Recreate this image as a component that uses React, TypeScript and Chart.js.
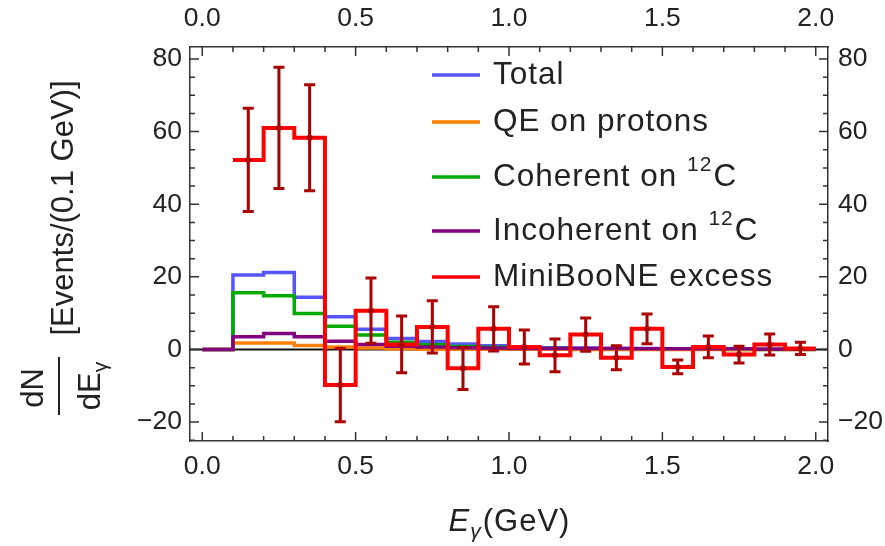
import React, { useEffect, useRef } from "react";
import { Chart, registerables } from "chart.js";

Chart.register(...registerables);

// ---------- data ----------
const binEdges = [0.0, 0.1, 0.2, 0.3, 0.4, 0.5, 0.6, 0.7, 0.8, 0.9, 1.0, 1.1, 1.2, 1.3, 1.4, 1.5, 1.6, 1.7, 1.8, 1.9, 2.0];

const totalEvents = [0, 20.5, 21.2, 14.4, 9.0, 5.6, 3.0, 2.2, 1.5, 1.0, 0.7, 0.5, 0.4, 0.3, 0.3, 0.2, 0.2, 0.2, 0.1, 0.1];
const qeProtons = [0, 1.8, 1.8, 1.1, 0.7, 0.4, 0.2, 0.1, 0.1, 0.1, 0.05, 0.05, 0, 0, 0, 0, 0, 0, 0, 0];
const coherentC12 = [0, 15.6, 14.8, 9.9, 6.4, 4.0, 2.0, 1.3, 0.8, 0.6, 0.4, 0.3, 0.2, 0.1, 0.1, 0.05, 0.05, 0, 0, 0];
const incoherentC12 = [0, 3.5, 4.4, 3.5, 2.3, 1.4, 0.9, 0.7, 0.5, 0.4, 0.3, 0.3, 0.3, 0.3, 0.2, 0.2, 0.2, 0.2, 0.1, 0.1];

// MiniBooNE excess: bins from 0.1 to 2.0
const excessEdges = [0.1, 0.2, 0.3, 0.4, 0.5, 0.6, 0.7, 0.8, 0.9, 1.0, 1.1, 1.2, 1.3, 1.4, 1.5, 1.6, 1.7, 1.8, 1.9, 2.0];
const excessEvents = [52.2, 61.0, 58.3, -9.8, 10.7, 1.4, 6.2, -5.2, 5.7, 0.7, -1.6, 4.1, -2.3, 5.7, -4.8, 0.7, -1.4, 1.4, 0.3];
const excessErrors = [14.2, 16.7, 14.6, 10.1, 9.0, 7.8, 7.2, 5.8, 6.1, 4.7, 4.5, 4.6, 3.3, 4.1, 1.9, 3.0, 2.3, 2.9, 1.7];

const xTickValues = [0, 0.1, 0.2, 0.3, 0.4, 0.5, 0.6, 0.7, 0.8, 0.9, 1.0, 1.1, 1.2, 1.3, 1.4, 1.5, 1.6, 1.7, 1.8, 1.9, 2.0];
const xMajorTicks = [0, 0.5, 1.0, 1.5, 2.0];
const yTickValues = [-25, -20, -15, -10, -5, 0, 5, 10, 15, 20, 25, 30, 35, 40, 45, 50, 55, 60, 65, 70, 75, 80];
const yMajorTicks = [-20, 0, 20, 40, 60, 80];

const legendLabels = ["Total", "QE on protons", "Coherent on ¹²C", "Incoherent on ¹²C", "MiniBooNE excess"];

// ---------- styling ----------
const FONT = "'Liberation Sans', Arial, Helvetica, sans-serif";
const TEXT = "#222222";
const FRAME = "#333333";
const C_TOTAL = "rgb(85,85,255)";
const C_QE = "rgb(255,128,0)";
const C_COH = "rgb(0,170,0)";
const C_INC = "rgb(128,0,128)";
const C_EXC = "rgb(255,0,0)";
const C_ERR = "rgb(170,0,0)";

const isIn = (arr: number[], v: number) => arr.some((m) => Math.abs(m - v) < 1e-9);

function stepPoints(edges: number[], values: number[]) {
  const pts = values.map((v, i) => ({ x: edges[i], y: v }));
  pts.push({ x: edges[values.length], y: values[values.length - 1] });
  return pts;
}

const centers = excessEvents.map((_, i) => (excessEdges[i] + excessEdges[i + 1]) / 2);

const decorPlugin = {
  id: "decor",
  beforeDatasetsDraw(chart: any) {
    const { ctx, chartArea } = chart;
    const y0 = chart.scales.y.getPixelForValue(0);
    ctx.save();
    ctx.strokeStyle = "#111";
    ctx.lineWidth = 1.8;
    ctx.beginPath();
    ctx.moveTo(chartArea.left, y0);
    ctx.lineTo(chartArea.right, y0);
    ctx.stroke();
    ctx.restore();
  },
  afterDatasetsDraw(chart: any) {
    const { ctx } = chart;
    const xs = chart.scales.x;
    const ys = chart.scales.y;
    ctx.save();
    ctx.strokeStyle = C_ERR;
    ctx.fillStyle = C_ERR;
    ctx.lineWidth = 3;
    ctx.lineCap = "butt";
    centers.forEach((c, i) => {
      const px = xs.getPixelForValue(c);
      const top = ys.getPixelForValue(excessEvents[i] + excessErrors[i]);
      const bot = ys.getPixelForValue(excessEvents[i] - excessErrors[i]);
      const mid = ys.getPixelForValue(excessEvents[i]);
      ctx.beginPath();
      ctx.moveTo(px, top);
      ctx.lineTo(px, bot);
      ctx.moveTo(px - 5.5, top);
      ctx.lineTo(px + 5.5, top);
      ctx.moveTo(px - 5.5, bot);
      ctx.lineTo(px + 5.5, bot);
      ctx.stroke();
      ctx.beginPath();
      ctx.arc(px, mid, 3, 0, Math.PI * 2);
      ctx.fill();
    });
    ctx.restore();
  },
  afterDraw(chart: any) {
    const { ctx, chartArea } = chart;
    ctx.save();
    // inward tick marks
    ctx.strokeStyle = FRAME;
    ctx.lineWidth = 1.5;
    const MAJ = 9;
    const MIN = 5;
    const xb = chart.scales.x;
    const yl = chart.scales.y;
    ctx.beginPath();
    xTickValues.forEach((v) => {
      const px = xb.getPixelForValue(v);
      const L = isIn(xMajorTicks, v) ? MAJ : MIN;
      ctx.moveTo(px, chartArea.bottom);
      ctx.lineTo(px, chartArea.bottom - L);
      ctx.moveTo(px, chartArea.top);
      ctx.lineTo(px, chartArea.top + L);
    });
    yTickValues.forEach((v) => {
      const py = yl.getPixelForValue(v);
      const L = isIn(yMajorTicks, v) ? MAJ : MIN;
      ctx.moveTo(chartArea.left, py);
      ctx.lineTo(chartArea.left + L, py);
      ctx.moveTo(chartArea.right, py);
      ctx.lineTo(chartArea.right - L, py);
    });
    ctx.stroke();

    // legend
    const colors = [C_TOTAL, C_QE, C_COH, C_INC, C_EXC];
    const rowsY = [75, 122, 177, 231, 277];
    const LF = `31.5px ${FONT}`;
    const SF = `21px ${FONT}`;
    ctx.lineWidth = 3.5;
    legendLabels.forEach((lab, i) => {
      const y = rowsY[i];
      ctx.strokeStyle = colors[i];
      ctx.beginPath();
      ctx.moveTo(432, y);
      ctx.lineTo(480, y);
      ctx.stroke();
      ctx.fillStyle = TEXT;
      ctx.textBaseline = "middle";
      ctx.textAlign = "left";
      ctx.letterSpacing = "1px";
      const supIdx = lab.indexOf("¹²");
      if (supIdx >= 0) {
        const pre = lab.slice(0, supIdx);
        const post = lab.slice(supIdx + 2);
        ctx.font = LF;
        ctx.fillText(pre, 493, y);
        let x = 493 + ctx.measureText(pre).width;
        ctx.font = SF;
        ctx.fillText("12", x, y - 12);
        x += ctx.measureText("12").width + 1;
        ctx.font = LF;
        ctx.fillText(post, x, y);
      } else {
        ctx.font = LF;
        ctx.fillText(lab, 493, y);
      }
      ctx.letterSpacing = "0px";
    });

    // x-axis title: E_γ(GeV)
    ctx.fillStyle = TEXT;
    ctx.textBaseline = "alphabetic";
    ctx.textAlign = "left";
    ctx.letterSpacing = "1px";
    const fE = `italic 31px ${FONT}`;
    const fG = `italic 21px ${FONT}`;
    const fR = `31px ${FONT}`;
    ctx.font = fE;
    const wE = ctx.measureText("E").width;
    ctx.font = fG;
    const wG = ctx.measureText("γ").width;
    ctx.font = fR;
    const wR = ctx.measureText("(GeV)").width;
    const cx = (chartArea.left + chartArea.right) / 2;
    let tx = cx - (wE + wG + wR) / 2;
    const base = 531;
    ctx.font = fE;
    ctx.fillText("E", tx, base);
    tx += wE;
    ctx.font = fG;
    ctx.fillText("γ", tx, base + 7);
    tx += wG + 1;
    ctx.font = fR;
    ctx.fillText("(GeV)", tx, base);
    ctx.letterSpacing = "0px";

    // y-axis title
    ctx.save();
    ctx.translate(64, 208);
    ctx.rotate(-Math.PI / 2);
    ctx.font = `31px ${FONT}`;
    ctx.textAlign = "center";
    ctx.textBaseline = "middle";
    ctx.fillText("[Events/(0.1 GeV)]", 0, 0);
    ctx.restore();

    ctx.save();
    ctx.translate(59, 386);
    ctx.rotate(-Math.PI / 2);
    ctx.strokeStyle = TEXT;
    ctx.lineWidth = 2;
    ctx.beginPath();
    ctx.moveTo(-29, 0);
    ctx.lineTo(29, 0);
    ctx.stroke();
    ctx.font = `31px ${FONT}`;
    ctx.textAlign = "center";
    ctx.textBaseline = "alphabetic";
    ctx.fillText("dN", -2, -16);
    ctx.textAlign = "left";
    const wdE = ctx.measureText("dE").width;
    ctx.font = `21px ${FONT}`;
    const wg = ctx.measureText("γ").width;
    const sx = -(wdE + wg) / 2;
    ctx.font = `31px ${FONT}`;
    ctx.fillText("dE", sx, 41);
    ctx.font = `21px ${FONT}`;
    ctx.fillText("γ", sx + wdE, 48);
    ctx.restore();

    ctx.restore();
  },
};

function xTickLabel(v: any) {
  return isIn(xMajorTicks, Number(v)) ? Number(v).toFixed(1) : "";
}
function yTickLabel(v: any) {
  const n = Number(v);
  if (!isIn(yMajorTicks, n)) return "";
  return n < 0 ? "\u2212" + Math.abs(n) : String(n);
}

export default function App() {
  const ref = useRef<HTMLCanvasElement | null>(null);
  useEffect(() => {
    if (!ref.current) return;
    const tickFont = { family: FONT, size: 26.5 };
    const xBase = (position: string, h: number, pad: number) => ({
      type: "linear",
      position,
      min: -0.04,
      max: 2.04,
      afterBuildTicks: (s: any) => {
        s.ticks = xTickValues.map((v) => ({ value: v }));
      },
      afterFit: (s: any) => {
        s.height = h;
      },
      grid: { display: false, drawTicks: false },
      border: { display: true, color: FRAME, width: 1.5 },
      ticks: {
        autoSkip: false,
        maxRotation: 0,
        minRotation: 0,
        padding: pad,
        color: TEXT,
        font: tickFont,
        callback: xTickLabel,
      },
    });
    const yBase = (position: string, w: number, pad: number) => ({
      type: "linear",
      position,
      min: -25.2,
      max: 83.3,
      afterBuildTicks: (s: any) => {
        s.ticks = yTickValues.map((v) => ({ value: v }));
      },
      afterFit: (s: any) => {
        s.width = w;
      },
      grid: { display: false, drawTicks: false },
      border: { display: true, color: FRAME, width: 1.5 },
      ticks: {
        autoSkip: false,
        padding: pad,
        color: TEXT,
        font: tickFont,
        callback: yTickLabel,
      },
    });

    const lineDs = (label: string, data: any[], color: string, width: number, order: number) => ({
      type: "line",
      label,
      data,
      borderColor: color,
      backgroundColor: color,
      borderWidth: width,
      stepped: "before",
      pointRadius: 0,
      fill: false,
      order,
    });

    const chart = new Chart(ref.current, {
      type: "line",
      data: {
        datasets: [
          lineDs(legendLabels[0], stepPoints(binEdges, totalEvents), C_TOTAL, 3.5, 5),
          lineDs(legendLabels[1], stepPoints(binEdges, qeProtons), C_QE, 3.5, 3),
          lineDs(legendLabels[2], stepPoints(binEdges, coherentC12), C_COH, 3.5, 4),
          lineDs(legendLabels[3], stepPoints(binEdges, incoherentC12), C_INC, 3.5, 2),
          lineDs(legendLabels[4], stepPoints(excessEdges, excessEvents), C_EXC, 4, 1),
        ] as any,
      },
      options: {
        animation: false,
        responsive: true,
        maintainAspectRatio: false,
        devicePixelRatio: 1,
        layout: { padding: 0 },
        plugins: {
          legend: { display: false },
          tooltip: { enabled: false },
          title: { display: false },
        },
        scales: {
          x: xBase("bottom", 105, 10),
          x2: xBase("top", 47, 12),
          y: yBase("left", 190, 8),
          y2: yBase("right", 57, 10),
        } as any,
      },
      plugins: [decorPlugin],
    } as any);
    return () => chart.destroy();
  }, []);

  return (
    <div style={{ position: "absolute", left: 0, top: 0, width: 885, height: 546, background: "#fff" }}>
      <canvas ref={ref} />
    </div>
  );
}
